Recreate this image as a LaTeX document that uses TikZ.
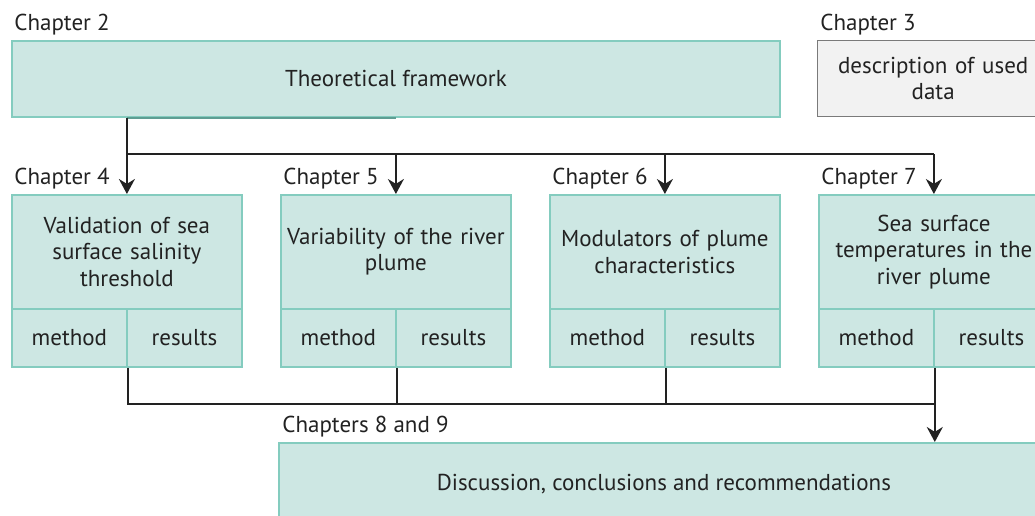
\documentclass[tikz,border=0pt]{standalone}
\usepackage{fontspec}
\setmainfont{PT Sans}
\usetikzlibrary{arrows.meta}
\definecolor{tfill}{HTML}{CDE7E3}
\definecolor{tline}{HTML}{84CCBF}
\definecolor{tdark}{HTML}{5E9E93}
\definecolor{gfill}{HTML}{F2F2F2}
\definecolor{gline}{HTML}{7A7A7A}
\definecolor{ink}{HTML}{222222}
\begin{document}
\begin{tikzpicture}[x=0.5pt,y=-0.5pt,
  font=\fontsize{11.5}{13.25}\selectfont,
  tbox/.style={draw=tline,fill=tfill,line width=0.9pt,anchor=north west,inner sep=0pt,align=center,text=ink},
  gbox/.style={draw=gline,fill=gfill,line width=0.7pt,anchor=north west,inner sep=0pt,align=center,text=ink},
  bigbox/.style={tbox,minimum width=115pt,minimum height=57pt,text width=112pt},
  cell/.style={tbox,minimum width=57.5pt,minimum height=29pt},
  chap/.style={anchor=base west,inner sep=0pt,text=ink},
  conn/.style={draw=ink,line width=1pt},
  arr/.style={conn,-{Stealth[length=7.5pt,width=8pt]}}]
\clip (0,0) rectangle (1035,515);
\path[use as bounding box] (0,0) rectangle (1035,515);

\node[tbox,minimum width=384pt,minimum height=38pt] (theo) at (11,40) {Theoretical framework};
\node[chap] (l2) at (14,30) {Chapter 2};
\node[gbox,minimum width=115.5pt,minimum height=38pt,text width=112pt] (desc) at (817,40) {description of used\\data};
\node[chap] (l3) at (820,30) {Chapter 3};

\node[bigbox] (c4) at (11,194) {Validation of sea\\surface salinity\\threshold};
\node[bigbox] (c5) at (280,194) {Variability of the river\\plume};
\node[bigbox] (c6) at (549,194) {Modulators of plume\\characteristics};
\node[bigbox] (c7) at (818,194) {Sea surface\\temperatures in the\\river plume};

\node[chap] (l4) at (14,184) {Chapter 4};
\node[chap] (l5) at (283,184) {Chapter 5};
\node[chap] (l6) at (552,184) {Chapter 6};
\node[chap] (l7) at (821,184) {Chapter 7};

\foreach \n/\x in {4/11,5/280,6/549,7/818}{
  \node[cell] (m\n) at (\x,308) {method};
  \node[cell] (r\n) at (\x+115,308) {results};
}

\node[tbox,minimum width=385pt,minimum height=41pt] (bot) at (278,442) {Discussion, conclusions and recommendations};
\node[chap] (l8) at (282,432) {Chapters 8 and 9};

\coordinate (jt) at (0,154);
\coordinate (jb) at (0,404);

% top connectors
\draw[tdark,line width=0.9pt] (theo.south -| c4.north) -- (theo.south);
\draw[arr] (theo.south -| c4.north) -- (c4.north);
\draw[conn] (c4.north |- jt) -- (c7.north |- jt);
\draw[arr] (c5.north |- jt) -- (c5.north);
\draw[arr] (c6.north |- jt) -- (c6.north);
\draw[arr] (c7.north |- jt) -- (c7.north);

% bottom connectors
\draw[conn] (m4.south east) -- (m4.south east |- jb) -- (m7.south east |- jb);
\draw[conn] (m5.south east) -- (m5.south east |- jb);
\draw[conn] (m6.south east) -- (m6.south east |- jb);
\draw[arr] (m7.south east) -- (bot.north -| m7.south east);
\end{tikzpicture}
\end{document}
